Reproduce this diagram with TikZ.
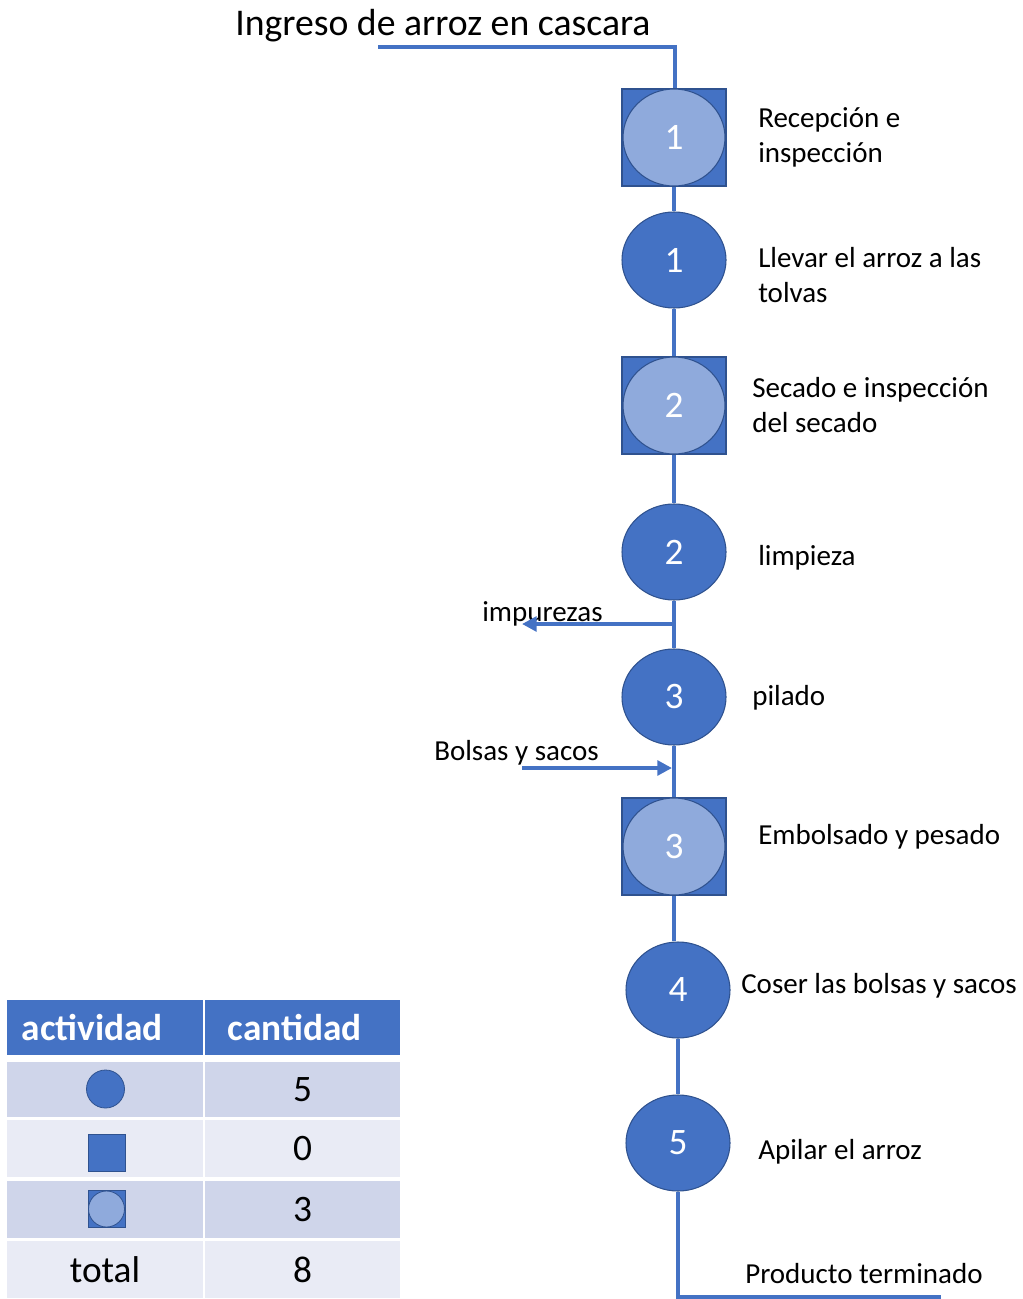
\documentclass[tikz,border=0pt]{standalone}
\usepackage{fontspec}
\setmainfont{Carlito}
\usetikzlibrary{shapes.geometric,arrows.meta,backgrounds}
\definecolor{procblue}{HTML}{4472C4}
\definecolor{procedge}{HTML}{2F528F}
\definecolor{proclight}{HTML}{8FAADC}
\definecolor{rowdark}{HTML}{CFD5EA}
\definecolor{rowlight}{HTML}{E9EBF5}

\begin{document}
\begin{tikzpicture}[x=0.75pt,y=-0.75pt,
  flow/.style={draw=procblue,line width=3pt},
  flowarrow/.style={flow,-{Triangle[length=11pt,width=11pt]}},
  opnode/.style={ellipse,draw=procedge,line width=0.8pt,fill=procblue,
    minimum width=78pt,minimum height=72pt,inner sep=0pt,text=white,
    font=\fontsize{28}{32}\selectfont},
  combonode/.style={opnode,fill=proclight,minimum width=76.5pt,minimum height=72.75pt},
  inspbox/.style={rectangle,draw=procedge,line width=0.8pt,fill=procblue,
    minimum width=78pt,minimum height=72.75pt,inner sep=0pt},
  lbl/.style={anchor=base west,align=left,inner sep=0pt,
    font=\fontsize{21.75}{26.25}\selectfont},
  cell/.style={rectangle,inner sep=0pt,font=\fontsize{28}{32}\selectfont},
  hdrcell/.style={cell,fill=procblue,text=white,font=\fontsize{28}{32}\selectfont\bfseries,
    align=left,minimum height=41.25pt},
  iconbox/.style={rectangle,draw=procedge,line width=0.6pt,fill=procblue,
    minimum size=27.75pt,inner sep=0pt},
  icondot/.style={circle,draw=procedge,line width=0.6pt,fill=procblue,
    minimum size=28.5pt,inner sep=0pt}
]
\useasboundingbox (0,0) rectangle (1023,1299);

% process title and entry line
\node[lbl,font=\fontsize{28.3}{32}\selectfont] (title) at (235,36) {Ingreso de arroz en cascara};

% steps of the process
\node[inspbox] (sq1) at (674,137.5) {};
\node[combonode] (k1) at (674,137.5) {1};
\node[opnode] (c1) at (674,260) {1};
\node[inspbox] (sq2) at (674,405.5) {};
\node[combonode] (k2) at (674,405.5) {2};
\node[opnode] (c2) at (674,552) {2};
\node[opnode] (c3) at (674,697) {3};
\node[inspbox] (sq3) at (674,846.5) {};
\node[combonode] (k3) at (674,846.5) {3};
\node[opnode] (c4) at (678,990) {4};
\node[opnode] (c5) at (678,1143) {5};

% step descriptions (two-line labels sit on the baseline of their last line)
\node[lbl] (l1) at (758,162) {Recepción e\\inspección};
\node[lbl] (l2) at (758,302) {Llevar el arroz a las\\tolvas};
\node[lbl] (l3) at (752,432) {Secado e inspección\\del secado};
\node[lbl] (l4) at (758,565) {limpieza};
\node[lbl] (l5) at (752,705) {pilado};
\node[lbl] (l6) at (758,844) {Embolsado y pesado};
\node[lbl] (l7) at (741,993) {Coser las bolsas y sacos};
\node[lbl] (l8) at (758,1159) {Apilar el arroz};
\node[lbl] (out) at (745,1283) {Producto terminado};
\node[lbl] (imp) at (482,621) {impurezas};
\node[lbl] (bag) at (434,760) {Bolsas y sacos};

% flow line
\coordinate (in0) at (378,47);
\coordinate (in1) at (675,47);
\coordinate (impstart) at (674,624);
\coordinate (impend) at (522,624);
\coordinate (bagstart) at (522,768);
\coordinate (bagend) at (672,768);
\coordinate (end0) at (678,1297);
\coordinate (end1) at (941,1297);

\begin{scope}[on background layer]
\draw[flow] (in0) -- (in1) -- (in1 |- sq1.north);
\draw[flow] (sq1.south) -- (c1.north);
\draw[flow] (c1.south) -- (sq2.north);
\draw[flow] (sq2.south) -- (c2.north);
\draw[flow] (c2.south) -- (c3.north);
\draw[flow] (c3.south) -- (sq3.north);
\draw[flow] (sq3.south) -- (sq3.south |- c4.north);
\draw[flow] (c4.south) -- (c5.north);
\draw[flow] (c5.south) -- (end0) -- (end1);
\end{scope}
\draw[flowarrow] (impstart) -- (impend);
\draw[flowarrow] (bagstart) -- (bagend);

% summary table
\node[hdrcell,minimum width=147pt,inner xsep=11pt,text width=125pt] (h1) at (105,1027.5) {actividad};
\node[hdrcell,minimum width=146.25pt,inner xsep=17pt,text width=112.25pt] (h2) at (302.5,1027.5) {cantidad};
\node[cell,fill=rowdark,minimum width=147pt,minimum height=41.25pt] (r1a) at (105,1089.5) {};
\node[cell,fill=rowdark,minimum width=146.25pt,minimum height=41.25pt] (r1b) at (302.5,1089.5) {5};
\node[cell,fill=rowlight,minimum width=147pt,minimum height=42.75pt] (r2a) at (105,1148.5) {};
\node[cell,fill=rowlight,minimum width=146.25pt,minimum height=42.75pt] (r2b) at (302.5,1148.5) {0};
\node[cell,fill=rowdark,minimum width=147pt,minimum height=42.75pt] (r3a) at (105,1209.5) {};
\node[cell,fill=rowdark,minimum width=146.25pt,minimum height=42.75pt] (r3b) at (302.5,1209.5) {3};
\node[cell,fill=rowlight,minimum width=147pt,minimum height=42.75pt] (r4a) at (105,1269.5) {total};
\node[cell,fill=rowlight,minimum width=146.25pt,minimum height=42.75pt] (r4b) at (302.5,1269.5) {8};

% symbols of the table
\node[icondot] (i1) at (105.5,1089) {};
\node[iconbox] (i2) at (106.5,1153) {};
\node[iconbox] (i3) at (106.5,1209) {};
\node[icondot,fill=proclight,minimum size=27pt] (i3c) at (106.5,1209) {};
\end{tikzpicture}
\end{document}
